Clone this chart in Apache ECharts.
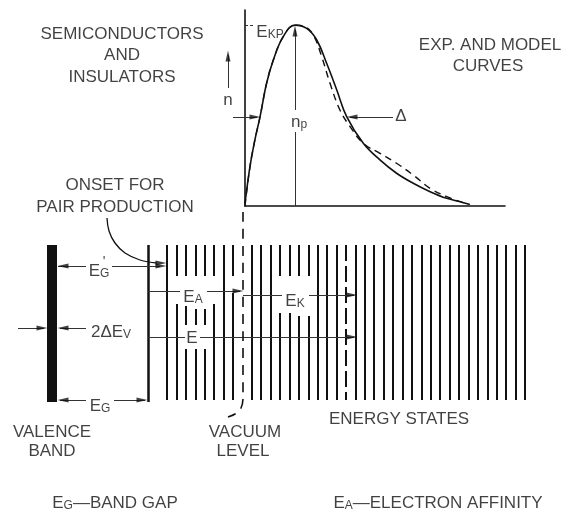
<!DOCTYPE html>
<html><head><meta charset="utf-8">
<script src="https://cdn.jsdelivr.net/npm/echarts@6/dist/echarts.min.js"></script>
<style>html,body{margin:0;padding:0;background:#fff}#c{width:568px;height:512px}</style>
</head><body><div id="c"></div>
<script>
// ---- Curve plot (plot units: x = energy 0..100, y = n 0..100)
const expCurve = [[0,1.4],[1.9,20],[3.8,33.7],[5.8,45.6],[8.3,62.6],[10.9,74.5],[14.7,86.4],[19.2,92.3],[23.7,90.6],[27.6,84.7],[31.4,72.8],[35.3,59.2],[39.1,45.6],[45.5,32],[51.9,23.5],[58.3,16.7],[64.7,11.6],[71.2,7.3],[77.6,3.9],[84,1.7],[85.8,1]];
const modelCurve = [[0,0],[1.9,20],[3.8,33.7],[5.8,45.6],[8.3,62.6],[10.9,74.5],[14.7,86.4],[19.2,92.3],[23.1,91.5],[26.3,87.2],[29.5,76.2],[32.7,62.6],[36.5,49],[40.4,40.5],[45.5,32],[51.9,26.9],[58.3,21.8],[64.7,15.8],[71.2,9],[77.6,4.8],[84,1.7],[86.5,0.8]];

// ---- Band diagram (diagram units)
const stateX = [167,176.4,185.8,195.3,204.7,214.1,223.5,232.9,251.8,261.2,270.6,280,289.5,298.9,308.3,317.7,327.1,336.5,355.4,364.8,374.2,383.6,393.1,402.5,411.9,421.3,430.7,440.2,449.6,459,468.4,477.8,487.3,496.7,506.1,515.5,525];
const stateGaps = {'176.4':[[276,304]],'185.8':[[276,306],[325,349]],'195.3':[[276,309],[325,349]],'204.7':[[276,309],[325,349]],'214.1':[[276,304]],'232.9':[[276,293]],'280':[[276,313]],'289.5':[[276,313]],'298.9':[[276,316]],'308.3':[[276,316]]};
const stateRange = [245,400];
const levelEX = 346;
const valenceBand = [[52,245],[52,402]];
const conductionEdge = [[148,245],[148,402]];
const vacuumLevel = [[243,212],[243,398],[241,408],[235,414],[228,417]];
const onsetCurve = [[107,218],[109,231],[115,243],[125,253],[140,260],[157,263]];
const thinSegments = [
  [[58,266],[86,266]],[[112,266],[160,266]],
  [[18,328],[44,328]],[[86,328],[60,328]],
  [[60,400],[86,400]],[[114,400],[145,400]],
  [[148,291],[180,291]],[[207,291],[240,291]],
  [[243,295],[282,295]],[[309,295],[354,295]],
  [[148,337],[185,337]],[[200,337],[354,337]],
  [[233,117],[257,117]],[[393,117],[350,117]],
  [[228,88],[228,55]],
  [[295,206],[295,132]],[[295,110],[295,30]]
];
const leaderDash = [[[245,25],[254,25]]];
const arrowTips = [[58,266,'l'],[166,266,'r'],[166,263,'r'],[47,328,'r'],[58,328,'l'],[58,400,'l'],[147,400,'r'],[243,291,'r'],[357,295,'r'],[357,337,'r'],[260,117,'r'],[347,117,'l'],[228,51,'u'],[295,26,'u']];
const textLabels = [
  ['SEMICONDUCTORS',122,34],['AND',122,55],['INSULATORS',122,77],
  ['EXP. AND MODEL',490,45],['CURVES',488,66],
  ['ONSET FOR',115,185],['PAIR PRODUCTION',115,207],
  ['n',228,100],['Δ',401,116],['E',192,338],
  ['VALENCE',52,432],['BAND',52,451],['VACUUM',245,432],['LEVEL',243,451],
  ['ENERGY STATES',399,419]
];
const subLabels = [
  ['E','KP','',270,31],['n','p','',299,121],['E','G','',99,270],['2ΔE','V','',111,331],
  ['E','G','',100,405],['E','A','',193,296],['E','K','',295,300],
  ['E','G','—BAND GAP',115,502],['E','A','—ELECTRON AFFINITY',438,502]
];
const primeLabels = [["'",104,262]];

const FONT = 'Liberation Sans';
const INK = '#111';

// build energy-state segments
const stateSegs = [];
stateX.forEach(function(x){
  const gaps = stateGaps[String(x)] || [];
  let y0 = stateRange[0];
  gaps.forEach(function(g){ stateSegs.push({coords:[[x,y0],[x,g[0]]]}); y0 = g[1]; });
  stateSegs.push({coords:[[x,y0],[x,stateRange[1]]]});
});
const rotMap = {r:-90,l:90,u:0,d:180};
const offMap = {r:[-5,0],l:[5,0],u:[0,5],d:[0,-5]};
const arrowData = arrowTips.map(function(a){
  return {value:[a[0]+offMap[a[2]][0], a[1]+offMap[a[2]][1]], symbolRotate: rotMap[a[2]]};
});
const labelData = textLabels.map(function(t){
  return {value:[t[1],t[2]], label:{formatter:t[0]}};
}).concat(subLabels.map(function(t){
  return {value:[t[3],t[4]], label:{formatter:'{m|'+t[0]+'}{s|'+t[1]+'}'+(t[2]?'{m|'+t[2]+'}':'')}};
})).concat(primeLabels.map(function(t){
  return {value:[t[1],t[2]], label:{formatter:'{p|'+t[0]+'}'}};
}));

const chart = echarts.init(document.getElementById('c'), null, {renderer:'canvas'});
chart.setOption({
  backgroundColor:'#fff',
  animation:false,
  grid:[
    {left:245, top:10, width:260, height:196},
    {left:0, top:0, width:568, height:512}
  ],
  xAxis:[
    {gridIndex:0, type:'value', min:0, max:100, axisLine:{show:true, lineStyle:{color:INK, width:1.6}}, axisTick:{show:false}, axisLabel:{show:false}, splitLine:{show:false}},
    {gridIndex:1, type:'value', min:0, max:568, show:false}
  ],
  yAxis:[
    {gridIndex:0, type:'value', min:0, max:100, axisLine:{show:true, lineStyle:{color:INK, width:1.6}}, axisTick:{show:false}, axisLabel:{show:false}, splitLine:{show:false}},
    {gridIndex:1, type:'value', min:0, max:512, inverse:true, show:false}
  ],
  series:[
    {type:'line', xAxisIndex:0, yAxisIndex:0, data:expCurve, smooth:0.4, symbol:'none', lineStyle:{color:INK, width:1.6}},
    {type:'line', xAxisIndex:0, yAxisIndex:0, data:modelCurve, smooth:0.4, symbol:'none', lineStyle:{color:INK, width:1.4, type:[7,5]}},
    {type:'lines', coordinateSystem:'cartesian2d', xAxisIndex:1, yAxisIndex:1, data:stateSegs, lineStyle:{color:INK, width:2, opacity:1}},
    {type:'lines', coordinateSystem:'cartesian2d', xAxisIndex:1, yAxisIndex:1, data:[{coords:[[levelEX,stateRange[0]],[levelEX,stateRange[1]]]}], lineStyle:{color:INK, width:2, opacity:1, type:[16,5]}},
    {type:'lines', coordinateSystem:'cartesian2d', xAxisIndex:1, yAxisIndex:1, data:[{coords:valenceBand}], lineStyle:{color:INK, width:10, opacity:1}},
    {type:'lines', coordinateSystem:'cartesian2d', xAxisIndex:1, yAxisIndex:1, data:[{coords:conductionEdge}], lineStyle:{color:INK, width:2.5, opacity:1}},
    {type:'line', xAxisIndex:1, yAxisIndex:1, data:vacuumLevel, smooth:0.3, symbol:'none', lineStyle:{color:INK, width:1.6, type:[10,7]}},
    {type:'line', xAxisIndex:1, yAxisIndex:1, data:onsetCurve, smooth:0.4, symbol:'none', lineStyle:{color:INK, width:1.3}},
    {type:'lines', coordinateSystem:'cartesian2d', xAxisIndex:1, yAxisIndex:1, data:thinSegments.map(function(s){return {coords:s};}), lineStyle:{color:'#333', width:1, opacity:1}},
    {type:'lines', coordinateSystem:'cartesian2d', xAxisIndex:1, yAxisIndex:1, data:leaderDash.map(function(s){return {coords:s};}), lineStyle:{color:'#333', width:1, opacity:1, type:[3,2]}},
    {type:'scatter', xAxisIndex:1, yAxisIndex:1, data:arrowData, symbol:'triangle', symbolSize:[5,11], itemStyle:{color:INK}},
    {type:'scatter', xAxisIndex:1, yAxisIndex:1, data:labelData, symbolSize:0,
      label:{show:true, position:[0,0], align:'center', verticalAlign:'middle', color:INK, fontFamily:FONT, fontSize:17,
        rich:{m:{fontFamily:FONT, fontSize:17, color:INK, lineHeight:20, verticalAlign:'bottom'},
              s:{fontFamily:FONT, fontSize:12, color:INK, lineHeight:6, verticalAlign:'bottom'},
              p:{fontFamily:FONT, fontSize:14, color:INK}}}}
  ]
});
</script></body></html>
